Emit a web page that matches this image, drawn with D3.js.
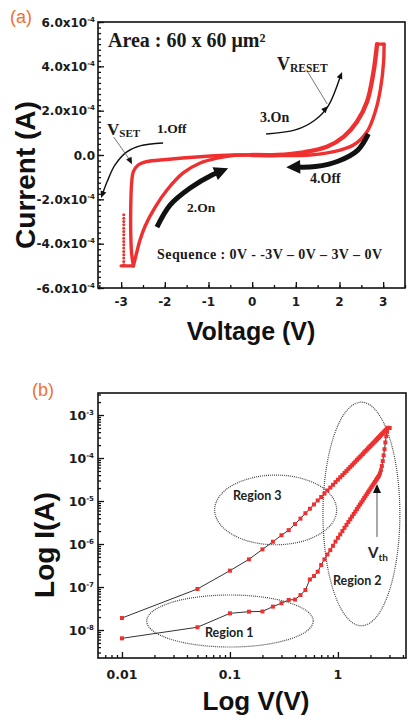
<!DOCTYPE html>
<html lang="en">
<head>
<meta charset="utf-8">
<script src="https://d3js.org/d3.v7.min.js"></script>
<style>
  body { margin: 0; background: #fff; }
  svg { display: block; }
  .tick-lbl { font-family: "DejaVu Sans"; font-weight: bold; fill: #1a1a1a; }
  .title { font-family: "Liberation Sans", Arial; font-weight: bold; fill: #111; }
  .note { font-family: "Liberation Serif", "Times New Roman"; font-weight: bold; fill: #1a1a1a; }
  .region { font-family: Lato, "Open Sans"; font-weight: bold; fill: #222; }
  .panel { font-family: "Liberation Sans", Arial; fill: #f07030; }
</style>
</head>
<body>
<script>
// ---------- panel (a): I-V loop, current in units of 1e-4 A ----------
// 1. off branch, 0 V -> -3 V, with the SET drop
const offNegV = [0, -0.43, -1.19, -1.96, -2.42, -2.61, -2.72, -2.76, -2.78, -2.78, -2.76, -2.72];
const offNegI = [0, 0, -0.08, -0.2, -0.3, -0.45, -0.75, -1.28, -2.33, -3.54, -4.44, -5.0];
// compliance at -5e-4 A
const ccNegV = [-2.72, -3.0];
const ccNegI = [-5.0, -5.0];
// sparse points at the turning point
const dotNegV = [-2.94, -2.94, -2.94, -2.94, -2.94, -2.94, -2.94, -2.94, -2.94, -2.94, -2.94, -2.94, -2.94, -2.94, -2.94, -2.94];
const dotNegI = [-4.95, -4.8, -4.65, -4.5, -4.35, -4.2, -4.05, -3.9, -3.75, -3.6, -3.45, -3.3, -3.15, -3.0, -2.85, -2.7];
// 2. on branch, -3 V -> 0 V
const onNegV = [-2.72, -2.65, -2.57, -2.45, -2.22, -1.95, -1.58, -1.19, -0.8, -0.44, 0];
const onNegI = [-5.0, -4.45, -3.85, -3.2, -2.35, -1.58, -0.81, -0.36, -0.14, -0.02, 0];
// 3. on branch, 0 V -> 3 V
const onPosV = [0, 0.57, 1.18, 1.71, 2.1, 2.4, 2.63, 2.78, 2.86];
const onPosI = [0, 0, 0.12, 0.37, 0.83, 1.5, 2.4, 3.76, 5.0];
const ccPosV = [2.86, 3.02];
const ccPosI = [5.0, 5.0];
// 4. off branch, 3 V -> 0 V
const offPosV = [3.02, 3.01, 2.94, 2.82, 2.63, 2.32, 1.87, 1.33, 0];
const offPosI = [5.0, 4.2, 3.0, 1.96, 1.05, 0.45, 0.15, 0, 0];

const aXTicks = [-3, -2, -1, 0, 1, 2, 3];
const aXLabels = ["-3", "-2", "-1", "0", "1", "2", "3"];
const aYTicks = [-6, -4, -2, 0, 2, 4, 6];
const aYLabels = ["-6.0x10", "-4.0x10", "-2.0x10", "0.0", "2.0x10", "4.0x10", "6.0x10"];
const aYExp = ["-4", "-4", "-4", "", "-4", "-4", "-4"];

// ---------- panel (b): log-log, positive sweep ----------
const logV = [0.01, 0.05, 0.10, 0.15, 0.20, 0.25, 0.30, 0.35, 0.40, 0.45, 0.50, 0.55, 0.60, 0.65, 0.70, 0.75,
  0.80, 0.85, 0.90, 0.95, 1.00, 1.05, 1.10, 1.15, 1.20, 1.25, 1.30, 1.35, 1.40, 1.45, 1.50, 1.55, 1.60,
  1.65, 1.70, 1.75, 1.80, 1.85, 1.90, 1.95, 2.00, 2.05, 2.10, 2.15, 2.20, 2.25, 2.30, 2.35, 2.40, 2.45,
  2.50, 2.55, 2.60, 2.65, 2.70, 2.75, 2.80, 2.85, 2.90, 2.95, 3.00];
const iUpper = [1.9e-8, 9.0e-8, 2.4e-7, 4.4e-7, 7.5e-7, 1.13e-6, 1.6e-6, 2.1e-6, 2.9e-6, 3.9e-6, 5.2e-6,
  6.6e-6, 8.3e-6, 1.03e-5, 1.24e-5, 1.49e-5, 1.76e-5, 2.05e-5, 2.38e-5, 2.75e-5, 3.14e-5, 3.56e-5,
  4.0e-5, 4.5e-5, 5.0e-5, 5.6e-5, 6.2e-5, 6.8e-5, 7.5e-5, 8.2e-5, 9.0e-5, 9.8e-5, 1.06e-4, 1.15e-4,
  1.24e-4, 1.35e-4, 1.45e-4, 1.55e-4, 1.67e-4, 1.78e-4, 1.9e-4, 2.03e-4, 2.16e-4, 2.29e-4, 2.43e-4,
  2.58e-4, 2.74e-4, 2.9e-4, 3.05e-4, 3.22e-4, 3.4e-4, 3.6e-4, 3.77e-4, 3.95e-4, 4.15e-4, 4.35e-4,
  4.56e-4, 4.78e-4, 5.0e-4, 5.0e-4, 5.0e-4];
const iLower = [6.4e-9, 1.16e-8, 2.44e-8, 2.67e-8, 2.7e-8, 3.5e-8, 4.2e-8, 5.0e-8, 5.1e-8, 6.5e-8, 8.5e-8,
  1.5e-7, 1.8e-7, 2.27e-7, 3.25e-7, 4.4e-7, 5.7e-7, 7.2e-7, 9.1e-7, 1.14e-6, 1.39e-6, 1.67e-6, 2.0e-6,
  2.38e-6, 2.78e-6, 3.26e-6, 3.78e-6, 4.35e-6, 5.0e-6, 5.7e-6, 6.5e-6, 7.35e-6, 8.3e-6, 9.3e-6, 1.04e-5,
  1.17e-5, 1.3e-5, 1.44e-5, 1.6e-5, 1.76e-5, 1.94e-5, 2.14e-5, 2.33e-5, 2.55e-5, 2.78e-5, 3.03e-5,
  3.3e-5, 3.58e-5, 3.87e-5, 4.4e-5, 5.2e-5, 6.5e-5, 8.5e-5, 1.15e-4, 1.6e-4, 2.3e-4, 3.2e-4, 4.2e-4,
  5.0e-4, 5.0e-4, 5.0e-4];

const bXTicks = [0.01, 0.1, 1];
const bXLabels = ["0.01", "0.1", "1"];
const bYTicks = [1e-8, 1e-7, 1e-6, 1e-5, 1e-4, 1e-3];
const bYExp = ["-8", "-7", "-6", "-5", "-4", "-3"];

// ellipses: centre (V, I), half-axes in decades
const regions = [
  { name: "Region 1", v: 0.1, i: 1.62e-8, rx: 0.771, ry: 0.605 },
  { name: "Region 2", v: 1.65, i: 5.0e-6, rx: 0.356, ry: 2.6 },
  { name: "Region 3", v: 0.265, i: 6.2e-6, rx: 0.565, ry: 0.81 }
];

const RED = "#ef3030";
const svg = d3.select("body").append("svg").attr("width", 408).attr("height", 719);

function zip(a, b) { return a.map((d, k) => [d, b[k]]); }

function head(g, from, tip, len, wid) {
  const dx = tip[0] - from[0], dy = tip[1] - from[1], d = Math.hypot(dx, dy);
  const ux = dx / d, uy = dy / d;
  const bx = tip[0] - ux * len, by = tip[1] - uy * len;
  g.append("path")
    .attr("d", `M${tip[0]},${tip[1]}L${bx - uy * wid / 2},${by + ux * wid / 2}L${bx + uy * wid / 2},${by - ux * wid / 2}Z`)
    .attr("fill", "#111");
}

// ================= panel (a) =================
const xa = d3.scaleLinear().domain([-3.53, 3.5]).range([98, 405]);
const ya = d3.scaleLinear().domain([-6, 6]).range([288, 22]);
const ga = svg.append("g");

// ticks
ga.append("g").attr("transform", "translate(98,0)")
  .call(d3.axisLeft(ya).tickValues(d3.range(-6, 6.01, 0.25)).tickSizeInner(-3).tickSizeOuter(0).tickFormat(""));
ga.append("g").attr("transform", "translate(98,0)")
  .call(d3.axisLeft(ya).tickValues(aYTicks).tickSizeInner(-6).tickSizeOuter(0).tickFormat(""));
ga.append("g").attr("transform", "translate(0,288)")
  .call(d3.axisBottom(xa).tickValues(d3.range(-3.5, 3.51, 0.5)).tickSizeInner(-3).tickSizeOuter(0).tickFormat(""));
ga.append("g").attr("transform", "translate(0,288)")
  .call(d3.axisBottom(xa).tickValues(aXTicks).tickSizeInner(-6).tickSizeOuter(0).tickFormat(""));
ga.selectAll(".domain").remove();
ga.selectAll(".tick line").attr("stroke", "#111").attr("stroke-width", 1.3);

ga.append("rect").attr("x", 98).attr("y", 22).attr("width", 307).attr("height", 266)
  .attr("fill", "none").attr("stroke", "#111").attr("stroke-width", 1.6);

aYTicks.forEach((t, k) => {
  const tx = ga.append("text").attr("class", "tick-lbl").attr("x", 95).attr("y", ya(t) + 4.5)
    .attr("text-anchor", "end").attr("font-size", 12).text(aYLabels[k]);
  if (aYExp[k]) tx.append("tspan").attr("font-size", 7).attr("dy", -5).text(aYExp[k]);
});
aXTicks.forEach((t, k) => {
  ga.append("text").attr("class", "tick-lbl").attr("x", xa(t)).attr("y", 306)
    .attr("text-anchor", "middle").attr("font-size", 12).text(aXLabels[k]);
});

ga.append("text").attr("class", "title").attr("font-size", 28)
  .attr("transform", "translate(35,175) rotate(-90)").attr("text-anchor", "middle").text("Current (A)");
ga.append("text").attr("class", "title").attr("font-size", 25)
  .attr("x", 251).attr("y", 340).attr("text-anchor", "middle").text("Voltage (V)");

// curves
const lineA = d3.line().x(d => xa(d[0])).y(d => ya(d[1])).curve(d3.curveCatmullRom.alpha(0.5));
const curvesA = [
  [zip(offNegV, offNegI), 3.4], [zip(ccNegV, ccNegI), 3.4], [zip(onNegV, onNegI), 3.4],
  [zip(onPosV, onPosI), 4.4], [zip(ccPosV, ccPosI), 3.4], [zip(offPosV, offPosI), 3.4]
];
curvesA.forEach(([pts, w]) => {
  ga.append("path").datum(pts).attr("d", lineA).attr("fill", "none")
    .attr("stroke", RED).attr("stroke-width", w).attr("stroke-linejoin", "round").attr("stroke-linecap", "round");
});
ga.selectAll(".dotN").data(zip(dotNegV, dotNegI)).enter().append("circle")
  .attr("cx", d => xa(d[0])).attr("cy", d => ya(d[1])).attr("r", 1.5).attr("fill", RED);

// annotation arrows (data units)
const P = p => [xa(p[0]), ya(p[1])];
const smooth = d3.line().curve(d3.curveCatmullRom.alpha(0.5));

function arrow(ptsData, width, len, wid, midHeads) {
  const pts = ptsData.map(P);
  const tip = pts[pts.length - 1], prev = pts[pts.length - 2];
  const d = Math.hypot(tip[0] - prev[0], tip[1] - prev[1]);
  const cut = Math.min(len * 0.6, d * 0.9);
  const end = [tip[0] - (tip[0] - prev[0]) / d * cut, tip[1] - (tip[1] - prev[1]) / d * cut];
  ga.append("path").attr("d", smooth(pts.slice(0, -1).concat([end]))).attr("fill", "none")
    .attr("stroke", "#111").attr("stroke-width", width).attr("stroke-linecap", "butt");
  head(ga, prev, tip, len, wid);
  (midHeads || []).forEach(k => head(ga, pts[k - 1], pts[k], len, wid));
}

// 1.Off
arrow([[-2.04, 0.54], [-2.57, 0.41], [-2.87, 0.14], [-3.14, -0.45], [-3.32, -1.2], [-3.46, -1.94]], 1.4, 7, 6);
// 2.On
arrow([[-2.18, -3.25], [-1.88, -2.26], [-1.42, -1.49], [-0.92, -0.9], [-0.55, -0.6]], 5, 14, 14);
// 4.Off
arrow([[2.66, 0.95], [2.42, 0.22], [1.98, -0.27], [1.45, -0.52], [0.78, -0.55]], 5, 14, 14);
// 3.On with V_RESET mark
arrow([[0.32, 0.95], [0.99, 1.13], [1.44, 1.58], [1.74, 2.21], [2.06, 3.75]], 1.4, 7, 6, [3]);

// pointer lines
ga.append("path").attr("d", d3.line()([P([-3.17, 0.81]), P([-2.8, -0.23])]))
  .attr("stroke", "#666").attr("stroke-width", 0.9).attr("fill", "none");
head(ga, P([-2.8, -0.23]), P([-2.75, -0.42]), 7, 6);
ga.append("path").attr("d", d3.line()([P([1.26, 3.79]), P([1.72, 2.3])]))
  .attr("stroke", "#666").attr("stroke-width", 0.9).attr("fill", "none");

// texts
ga.append("text").attr("class", "note").attr("x", 108).attr("y", 47).attr("font-size", 20).text("Area : 60 x 60 μm²");
const vr = ga.append("text").attr("class", "note").attr("x", 277).attr("y", 70).attr("font-size", 18).text("V");
vr.append("tspan").attr("font-size", 11.5).attr("dy", 2).text("RESET");
const vs = ga.append("text").attr("class", "note").attr("x", 107).attr("y", 135).attr("font-size", 17).text("V");
vs.append("tspan").attr("font-size", 11).attr("dy", 1.5).text("SET");
ga.append("text").attr("class", "note").attr("x", 157).attr("y", 133).attr("font-size", 13.5).text("1.Off");
ga.append("text").attr("class", "note").attr("x", 260).attr("y", 122).attr("font-size", 14).text("3.On");
ga.append("text").attr("class", "note").attr("x", 187).attr("y", 212).attr("font-size", 13.5).text("2.On");
ga.append("text").attr("class", "note").attr("x", 310).attr("y", 183).attr("font-size", 14).text("4.Off");
ga.append("text").attr("class", "note").attr("x", 157).attr("y", 259).attr("font-size", 14)
  .attr("textLength", 225).text("Sequence : 0V - -3V – 0V – 3V – 0V");

svg.append("text").attr("class", "panel").attr("x", 10).attr("y", 23).attr("font-size", 18).text("(a)");

// ================= panel (b) =================
const xb = d3.scaleLog().domain([0.006, 4.27]).range([98, 406]);
const yb = d3.scaleLog().domain([2.234e-9, 3.25e-3]).range([658, 393]);
const gb = svg.append("g");

const minorY = [];
[-9, -8, -7, -6, -5, -4, -3].forEach(e => { for (let m = 2; m <= 9; m++) minorY.push(m * Math.pow(10, e)); });
const minorX = [];
[-3, -2, -1, 0].forEach(e => { for (let m = 2; m <= 9; m++) minorX.push(m * Math.pow(10, e)); });
const yd = yb.domain(), xd = xb.domain();

gb.append("g").attr("transform", "translate(98,0)")
  .call(d3.axisLeft(yb).tickValues(minorY.filter(v => v > yd[0] && v < yd[1])).tickSizeInner(-3).tickSizeOuter(0).tickFormat(""));
gb.append("g").attr("transform", "translate(98,0)")
  .call(d3.axisLeft(yb).tickValues(bYTicks).tickSizeInner(-6).tickSizeOuter(0).tickFormat(""));
gb.append("g").attr("transform", "translate(0,658)")
  .call(d3.axisBottom(xb).tickValues(minorX.filter(v => v > xd[0] && v < xd[1])).tickSizeInner(-3).tickSizeOuter(0).tickFormat(""));
gb.append("g").attr("transform", "translate(0,658)")
  .call(d3.axisBottom(xb).tickValues(bXTicks).tickSizeInner(-6).tickSizeOuter(0).tickFormat(""));
gb.selectAll(".domain").remove();
gb.selectAll(".tick line").attr("stroke", "#111").attr("stroke-width", 1.3);

gb.append("rect").attr("x", 98).attr("y", 393).attr("width", 308).attr("height", 265)
  .attr("fill", "none").attr("stroke", "#111").attr("stroke-width", 1.6);

bYTicks.forEach((t, k) => {
  const tx = gb.append("text").attr("class", "tick-lbl").attr("x", 94).attr("y", yb(t) + 5)
    .attr("text-anchor", "end").attr("font-size", 12.5).text("10");
  tx.append("tspan").attr("font-size", 7).attr("dy", -5.5).text(bYExp[k]);
});
bXTicks.forEach((t, k) => {
  gb.append("text").attr("class", "tick-lbl").attr("x", xb(t)).attr("y", 679)
    .attr("text-anchor", "middle").attr("font-size", 12.5).text(bXLabels[k]);
});

gb.append("text").attr("class", "title").attr("font-size", 28)
  .attr("transform", "translate(54,545) rotate(-90)").attr("text-anchor", "middle").text("Log I(A)");
gb.append("text").attr("class", "title").attr("font-size", 26)
  .attr("x", 256).attr("y", 710).attr("text-anchor", "middle").text("Log V(V)");

// ellipses
regions.forEach(r => {
  const cx = xb(r.v), cy = yb(r.i);
  gb.append("ellipse").attr("cx", cx).attr("cy", cy)
    .attr("rx", xb(r.v * Math.pow(10, r.rx)) - cx).attr("ry", cy - yb(r.i * Math.pow(10, r.ry)))
    .attr("fill", "none").attr("stroke", "#444").attr("stroke-width", 1.2).attr("stroke-dasharray", "1,1");
});

// curves
const lineB = d3.line().x(d => xb(d[0])).y(d => yb(d[1]));
[iUpper, iLower].forEach(series => {
  const pts = zip(logV, series);
  gb.append("path").datum(pts).attr("d", lineB).attr("fill", "none").attr("stroke", "#333").attr("stroke-width", 1);
  gb.append("g").selectAll("rect").data(pts).enter().append("rect")
    .attr("x", d => xb(d[0]) - 2).attr("y", d => yb(d[1]) - 2).attr("width", 4).attr("height", 4).attr("fill", RED);
});

// V_th arrow
gb.append("line").attr("x1", xb(2.3)).attr("x2", xb(2.3)).attr("y1", yb(1.46e-6)).attr("y2", yb(2.5e-5) + 6)
  .attr("stroke", "#555").attr("stroke-width", 1);
head(gb, [xb(2.3), yb(1.46e-6)], [xb(2.3), yb(2.5e-5)], 9, 8);

gb.append("text").attr("class", "region").attr("x", 233).attr("y", 500).attr("font-size", 12.5).text("Region 3");
gb.append("text").attr("class", "region").attr("x", 205).attr("y", 637).attr("font-size", 12.5).text("Region 1");
gb.append("text").attr("class", "region").attr("x", 333).attr("y", 585).attr("font-size", 12.5).text("Region 2");
const vt = gb.append("text").attr("class", "region").attr("x", 368).attr("y", 558).attr("font-size", 15).text("V");
vt.append("tspan").attr("font-size", 10).attr("dy", 3).text("th");

svg.append("text").attr("class", "panel").attr("x", 32).attr("y", 396).attr("font-size", 18).text("(b)");
</script>
</body>
</html>
